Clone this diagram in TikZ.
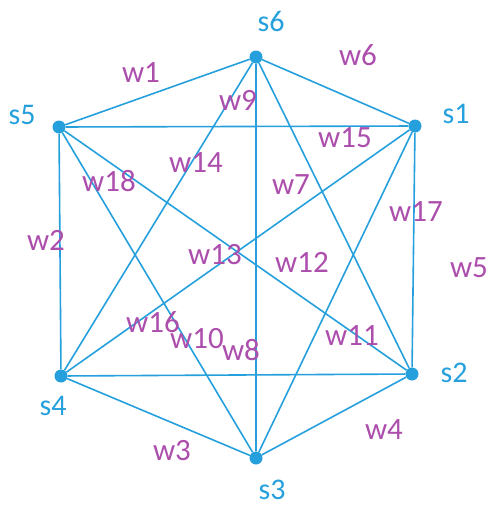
\documentclass[tikz,border=0pt]{standalone}
\usepackage{fontspec}
\setmainfont{Carlito}
\usepackage{xcolor}
\usetikzlibrary{positioning}
\definecolor{edgeblue}{RGB}{38,160,220}
\definecolor{wpurple}{RGB}{172,78,172}

\begin{document}
\begin{tikzpicture}[x=1pt,y=-1pt,
    vertex/.style={circle,fill=edgeblue,inner sep=0pt,minimum size=13pt},
    slabel/.style={text=edgeblue,font=\fontsize{30}{32}\selectfont},
    wlabel/.style={text=wpurple,font=\fontsize{31}{33}\selectfont,inner sep=0pt}]
    \useasboundingbox (0,0) rectangle (490,507);

    % Vertices
    \node[vertex] (s6) at (256,57) {};
    \node[vertex] (s1) at (415,126) {};
    \node[vertex] (s2) at (412,374) {};
    \node[vertex] (s3) at (256,458) {};
    \node[vertex] (s4) at (61,376) {};
    \node[vertex] (s5) at (59,127) {};

    % Vertex names
    \node[slabel] (n6) at (271,21) {s6};
    \node[slabel] (n1) at (456,114) {s1};
    \node[slabel] (n2) at (454,373) {s2};
    \node[slabel] (n3) at (272,490) {s3};
    \node[slabel] (n4) at (53,406) {s4};
    \node[slabel] (n5) at (22,115) {s5};

    % Edges
    \draw[edgeblue,line width=1.6pt]
        (s6) -- (s1) (s6) -- (s5) (s6) -- (s3) (s6) -- (s4) (s6) -- (s2)
        (s5) -- (s1) (s5) -- (s4) (s5) -- (s3) (s5) -- (s2)
        (s1) -- (s2) (s1) -- (s4) (s1) -- (s3)
        (s4) -- (s2) (s4) -- (s3) (s2) -- (s3);

    % Weights
    \node[wlabel] (w1) at (141,73) {w1};
    \node[wlabel] (w6) at (358,55) {w6};
    \node[wlabel] (w9) at (238,100) {w9};
    \node[wlabel] (w15) at (345,138) {w15};
    \node[wlabel] (w14) at (196,163) {w14};
    \node[wlabel] (w18) at (109,181) {w18};
    \node[wlabel] (w7) at (291,185) {w7};
    \node[wlabel] (w17) at (416,212) {w17};
    \node[wlabel] (w2) at (46,240) {w2};
    \node[wlabel] (w13) at (215,255) {w13};
    \node[wlabel] (w12) at (302,262) {w12};
    \node[wlabel] (w5) at (469,268) {w5};
    \node[wlabel] (w16) at (153,322) {w16};
    \node[wlabel] (w10) at (197,339) {w10};
    \node[wlabel] (w8) at (241,350) {w8};
    \node[wlabel] (w11) at (352,336) {w11};
    \node[wlabel] (w4) at (384,430) {w4};
    \node[wlabel] (w3) at (172,451) {w3};
\end{tikzpicture}
\end{document}
